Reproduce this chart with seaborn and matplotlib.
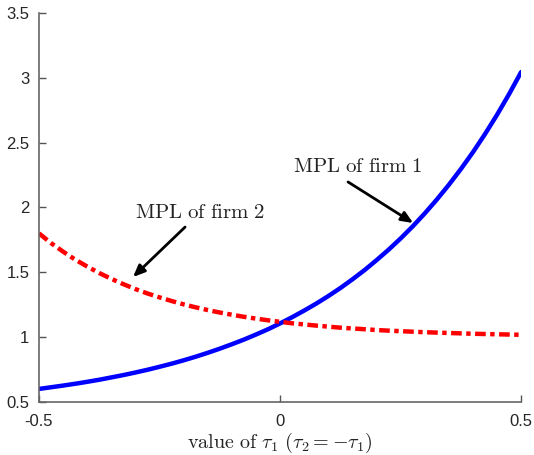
import numpy as np
import pandas as pd
import matplotlib
matplotlib.use('Agg')
import matplotlib.pyplot as plt
import seaborn as sns

# values
tau1 = [-0.5, -0.475, -0.45, -0.425, -0.4, -0.375, -0.35, -0.325, -0.3, -0.275,
        -0.25, -0.225, -0.2, -0.175, -0.15, -0.125, -0.1, -0.075, -0.05, -0.025,
        0.0, 0.025, 0.05, 0.075, 0.1, 0.125, 0.15, 0.175, 0.2, 0.225,
        0.25, 0.275, 0.3, 0.325, 0.35, 0.375, 0.4, 0.425, 0.45, 0.475, 0.5]
mpl_firm1 = [0.599, 0.612, 0.625, 0.639, 0.654, 0.670, 0.688, 0.706, 0.726, 0.747,
             0.770, 0.794, 0.820, 0.848, 0.878, 0.910, 0.944, 0.980, 1.019, 1.060,
             1.105, 1.153, 1.204, 1.258, 1.316, 1.378, 1.445, 1.516, 1.593, 1.674,
             1.761, 1.854, 1.954, 2.061, 2.175, 2.297, 2.427, 2.567, 2.716, 2.876, 3.046]
mpl_firm2 = [1.800, 1.725, 1.659, 1.598, 1.544, 1.494, 1.449, 1.408, 1.370, 1.336,
             1.306, 1.278, 1.252, 1.229, 1.208, 1.189, 1.172, 1.156, 1.142, 1.129,
             1.117, 1.106, 1.097, 1.088, 1.080, 1.072, 1.066, 1.060, 1.054, 1.049,
             1.045, 1.041, 1.037, 1.034, 1.031, 1.028, 1.025, 1.023, 1.021, 1.019, 1.017]
yticks = [0.5, 1, 1.5, 2, 2.5, 3, 3.5]
xticks = [-0.5, 0, 0.5]

df = pd.DataFrame({'tau1': tau1, 'firm1': mpl_firm1, 'firm2': mpl_firm2})

sns.set_style('ticks')
plt.rcParams['font.family'] = ['Liberation Sans', 'DejaVu Sans']
plt.rcParams['mathtext.fontset'] = 'cm'
plt.rcParams['axes.unicode_minus'] = False
plt.rcParams['xtick.direction'] = 'in'
plt.rcParams['ytick.direction'] = 'in'

fig = plt.figure(figsize=(5.34, 4.55), dpi=100)
ax = fig.add_axes([0.073, 0.117, 0.903, 0.854])

sns.lineplot(data=df, x='tau1', y='firm1', ax=ax, color='#0000ff', linewidth=3.2)
sns.lineplot(data=df, x='tau1', y='firm2', ax=ax, color='#ff0000', linewidth=3.2,
             dashes=False)
ax.lines[1].set_dashes([2.4, 1.0, 1.0, 1.0])

ax.set_xlim(-0.5, 0.5)
ax.set_ylim(0.5, 3.5)
ax.set_xticks(xticks)
ax.set_yticks(yticks)
ax.set_xticklabels(['%g' % v for v in xticks])
ax.set_yticklabels(['%g' % v for v in yticks])
ax.tick_params(direction='in', length=5, width=1, color='#555555',
               labelsize=12, labelcolor='#262626')
ax.tick_params(axis='x', pad=9)
ax.tick_params(axis='y', pad=7)
for s in ['top', 'right']:
    ax.spines[s].set_visible(False)
for s in ['left', 'bottom']:
    ax.spines[s].set_color('#666666')
    ax.spines[s].set_linewidth(1.2)

ax.set_xlabel(r'$\mathrm{value\ of\ }\tau_1\ (\tau_2 = -\tau_1)$', fontsize=14.5,
              labelpad=1, color='#222222')
ax.set_ylabel('')

arrow = dict(arrowstyle='-|>,head_length=0.7,head_width=0.3', color='black',
             lw=2, shrinkA=0, shrinkB=0)
ax.annotate('', xy=(-0.305, 1.463), xytext=(-0.197, 1.849), arrowprops=arrow)
ax.text(-0.166, 1.965, r'$\mathrm{MPL\ of\ firm\ 2}$', fontsize=15,
        ha='center', va='center', color='#222222')
ax.annotate('', xy=(0.276, 1.88), xytext=(0.141, 2.197), arrowprops=arrow)
ax.text(0.162, 2.32, r'$\mathrm{MPL\ of\ firm\ 1}$', fontsize=15,
        ha='center', va='center', color='#222222')

fig.savefig('out.png', dpi=100)
